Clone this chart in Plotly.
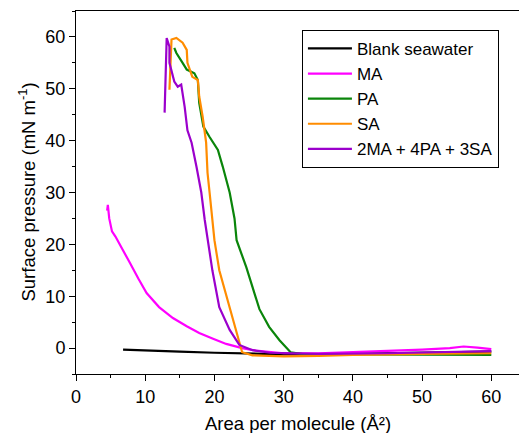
import plotly.graph_objects as go

blank_x = [6.8, 10, 15, 20, 25, 30, 35, 40, 45, 50, 55, 60]
blank_y = [-0.3, -0.5, -0.7, -0.9, -1.1, -1.2, -1.2, -1.1, -1.0, -0.9, -0.8, -0.7]

ma_x = [4.5, 4.6, 4.8, 5.2, 5.7, 6.6, 7.8, 9.0, 10.2, 12.0, 14.0, 16.0, 17.8, 19.8, 21.7, 24.0, 26.0, 30.0, 35.0, 40.0, 45.0, 50.0, 54.0, 56.0, 58.0, 60.0]
ma_y = [26.5, 27.6, 25.0, 22.5, 21.5, 19.2, 16.4, 13.4, 10.6, 7.9, 5.8, 4.2, 2.9, 1.8, 0.8, 0.0, -0.5, -1.0, -1.0, -0.8, -0.6, -0.3, 0.0, 0.3, 0.1, -0.2]

pa_x = [14.2, 14.5, 15.4, 16.0, 17.1, 17.6, 17.8, 18.4, 19.3, 20.5, 21.2, 22.2, 22.9, 23.2, 24.6, 26.5, 27.9, 29.4, 31.0, 33.0, 40.0, 50.0, 60.0]
pa_y = [57.9, 56.9, 55.0, 53.7, 53.0, 51.7, 47.3, 42.7, 40.7, 38.2, 35.0, 30.0, 25.0, 20.8, 15.6, 7.5, 4.1, 1.5, -0.8, -1.2, -1.2, -1.3, -1.3]

sa_x = [13.5, 13.8, 14.5, 15.4, 16.0, 16.1, 16.8, 17.6, 17.8, 18.3, 18.8, 19.0, 19.3, 19.7, 20.0, 20.7, 22.2, 23.2, 24.0, 25.5, 30.0, 35.0, 40.0, 50.0, 60.0]
sa_y = [49.8, 59.5, 59.8, 58.9, 57.5, 55.0, 52.3, 51.7, 48.5, 44.6, 39.6, 33.8, 30.0, 25.0, 20.8, 15.0, 7.9, 3.5, -0.8, -1.4, -1.6, -1.5, -1.3, -1.1, -1.0]

mix_x = [12.8, 13.1, 13.5, 13.5, 14.2, 14.7, 15.2, 15.7, 16.1, 16.7, 17.4, 18.1, 18.6, 18.8, 19.7, 20.7, 22.2, 23.6, 25.5, 28.0, 35.0, 45.0, 55.0, 60.0]
mix_y = [45.4, 59.8, 58.1, 55.0, 51.4, 50.4, 50.8, 46.5, 42.0, 39.6, 35.0, 30.0, 24.7, 22.8, 15.0, 7.9, 3.5, 0.6, -0.4, -0.9, -1.1, -1.0, -0.8, -0.6]

series = [
    ("Blank seawater", blank_x, blank_y, "#000000"),
    ("MA", ma_x, ma_y, "#FF00FF"),
    ("PA", pa_x, pa_y, "#0A850A"),
    ("SA", sa_x, sa_y, "#FF8C00"),
    ("2MA + 4PA + 3SA", mix_x, mix_y, "#9B00CC"),
]

x_title = "Area per molecule (Å²)"
y_title = "Surface pressure (mN m<sup>-1</sup>)"

fig = go.Figure()
for name, x, y, c in series:
    fig.add_trace(go.Scatter(x=x, y=y, mode="lines", name=name,
                             line=dict(color=c, width=2.2)))

font = "Arial, Liberation Sans, sans-serif"
fig.update_layout(
    width=519, height=433,
    margin=dict(l=76, r=0, t=11, b=59),
    paper_bgcolor="white", plot_bgcolor="white",
    font=dict(family=font, size=18, color="black"),
    legend=dict(x=0.51, y=0.948, xanchor="left", yanchor="top",
                bordercolor="black", borderwidth=1, bgcolor="white",
                font=dict(size=17), tracegroupgap=0, itemwidth=44),
    showlegend=True,
    annotations=[
        dict(text=x_title, xref="paper", yref="paper", x=0.5, y=-0.135,
             xanchor="center", yanchor="middle", showarrow=False,
             font=dict(size=18.5)),
        dict(text=y_title, xref="paper", yref="paper", x=-0.1106, y=0.5,
             xanchor="center", yanchor="middle", showarrow=False, textangle=-90,
             font=dict(size=18.5)),
    ],
)
fig.update_xaxes(range=[0, 64], tickvals=[0, 10, 20, 30, 40, 50, 60],
                 ticks="outside", ticklen=6, tickwidth=1, tickcolor="black",
                 minor=dict(ticks="outside", ticklen=3, dtick=5, tick0=0, tickcolor="black"),
                 showline=True, linecolor="black", linewidth=1, mirror=True,
                 showgrid=False, zeroline=False, automargin=False)
fig.update_yaxes(range=[-5, 65], tickvals=[0, 10, 20, 30, 40, 50, 60],
                 ticks="outside", ticklen=6, tickwidth=1, tickcolor="black",
                 minor=dict(ticks="outside", ticklen=3, dtick=5, tick0=0, tickcolor="black"),
                 showline=True, linecolor="black", linewidth=1,
                 showgrid=False, zeroline=False, automargin=False)

fig.write_html("out.html", config={"displayModeBar": False},
               post_script="document.body.style.margin='0';")
